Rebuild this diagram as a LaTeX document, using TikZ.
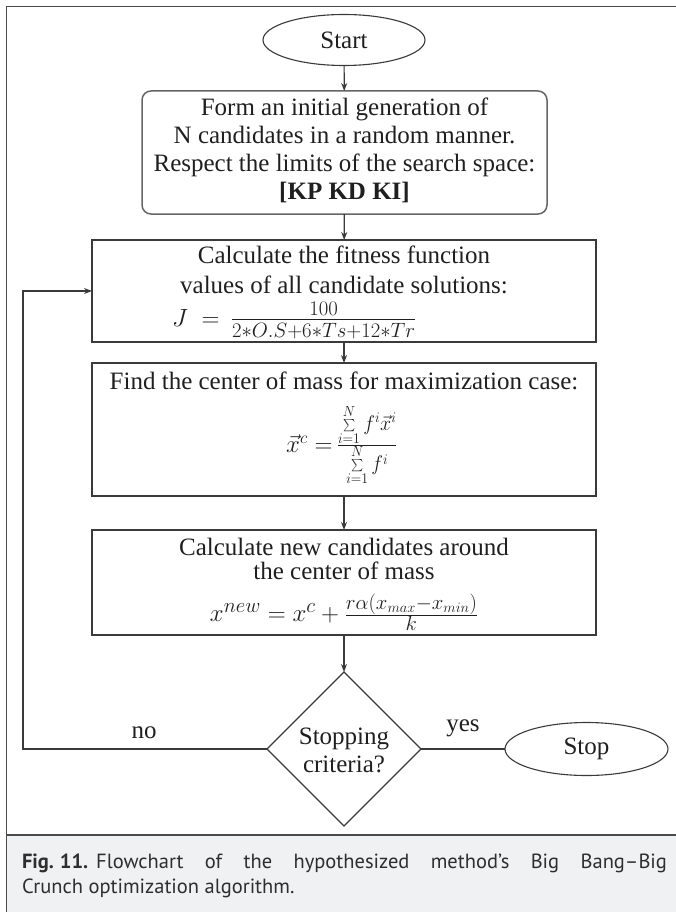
\documentclass[tikz,border=0pt]{standalone}
\usepackage{fontspec}
\usepackage{graphicx}
\setmainfont{Liberation Serif}
\newfontfamily\capfont{PT Sans}
\usetikzlibrary{shapes.geometric,arrows.meta}
\definecolor{capbg}{HTML}{F0F1F3}
\definecolor{linec}{HTML}{3A3A3A}
\definecolor{framec}{HTML}{4A4A4A}
\begin{document}
\begin{tikzpicture}[x=1pt,y=-1pt,
  every node/.style={inner sep=0pt, outer sep=0pt},
  txt/.style={font=\fontsize{25}{28}\selectfont, align=center, text=black!88},
  procbox/.style={draw=linec, line width=1.3pt, rectangle},
  term/.style={draw=linec, line width=1.1pt, ellipse, minimum width=162pt, minimum height=51pt, font=\fontsize{25}{28}\selectfont, text=black!88},
  arr/.style={draw=linec, line width=1.2pt, -{Stealth[length=8pt,width=6pt]}},
  conn/.style={draw=linec, line width=1.2pt},
  lbl/.style={font=\fontsize{25}{28}\selectfont, text=black!88},
  captxt/.style={anchor=base west, font=\capfont\fontsize{20.5}{25}\selectfont, text=black!82}]
\path[use as bounding box] (0,0) rectangle (676,912);
% caption background and frame
\fill[capbg] (6.5,835) rectangle (676,912);
\draw[framec, line width=1pt] (6.5,912) -- (6.5,6.5) -- (676,6.5);
\draw[framec, line width=1.2pt] (6.5,835) -- (676,835);
% nodes
\node[term] (start) at (344,40) {Start};
\node[draw=black!60, line width=1.5pt, rounded corners=9pt, minimum width=405pt, minimum height=123pt] (init) at (344.5,152.5) {};
\node[txt] (initt) at (344.5,150) {Form an initial generation of\\ N candidates in a random manner.\\ Respect the limits of the search space:\\ \textbf{[KP KD KI]}};
\node[procbox, minimum width=504pt, minimum height=102pt] (fit) at (344,291) {};
\node[txt, font=\fontsize{25}{30}\selectfont] (fitt) at (344,270) {Calculate the fitness function\\ values of all candidate solutions:};
\node[txt, anchor=west] (fitf) at (172,320) {$J \;=\;$\,\scalebox{1.2}{$\frac{100}{2{*}O.S+6{*}Ts+12{*}Tr}$}};
\node[procbox, minimum width=504pt, minimum height=133pt] (com) at (344,429.5) {};
\node[txt] (comt) at (344,381) {Find the center of mass for maximization case:};
\node[txt] (comf) at (342,445) {$\vec{x}^{c} =\,$\scalebox{1.15}[1.22]{$\frac{\sum\limits_{i=1}^{N} f^{i}\vec{x}^{i}}{\sum\limits_{i=1}^{N} f^{i}}$}};
\node[procbox, minimum width=504pt, minimum height=105pt] (newc) at (344,582.5) {};
\node[txt, font=\fontsize{25}{24}\selectfont] (newt) at (344,559) {Calculate new candidates around\\ the center of mass};
\node[txt, font=\fontsize{29}{30}\selectfont] (newf) at (344,612) {$x^{new} = x^{c} + \frac{r\alpha(x_{max}-x_{min})}{k}$};
\node[draw=linec, line width=1.1pt, diamond, minimum width=154pt, minimum height=154pt, aspect=1] (dec) at (344,749) {};
\node[txt] (dect) at (344,750) {Stopping\\ criteria?};
\node[term, minimum width=163pt, minimum height=53pt] (stop) at (586.5,749) {Stop};
\node[lbl] (no) at (144,733) {no};
\node[lbl] (yes) at (463,728) {yes};
% connectors
\draw[arr] (start) -- (init);
\draw[arr] (init) -- (fit);
\draw[arr] (fit) -- (com);
\draw[arr] (com) -- (newc);
\draw[arr] (newc) -- (dec);
\coordinate (c1) at (23,749);
\coordinate (c2) at (23,291);
\draw[arr] (dec.west) -- (c1) -- (c2) -- (fit.west);
\draw[conn] (dec.east) -- (stop.west);
% caption
\node[captxt] (cap1) at (22,868) {\makebox[645pt][s]{\textbf{Fig.\hspace{6pt}11.}\hspace{8pt}Flowchart of the hypothesized method’s Big Bang–Big}};
\node[captxt] (cap2) at (22,893) {Crunch optimization algorithm.};
\end{tikzpicture}
\end{document}
